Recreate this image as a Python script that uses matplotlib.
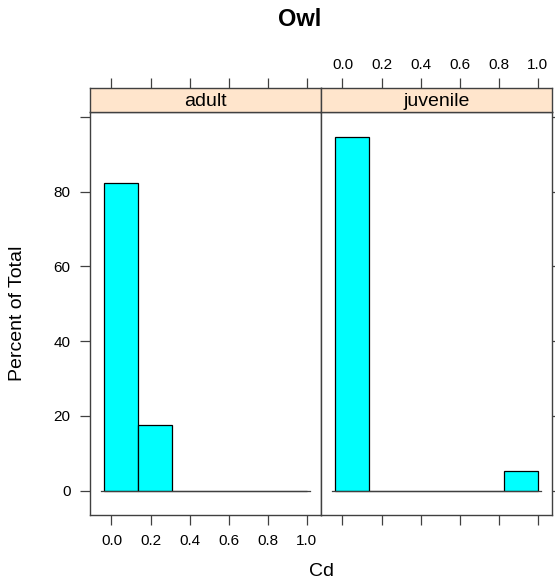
import numpy as np
import matplotlib.pyplot as plt

plt.rcParams['font.family'] = ['Liberation Sans', 'DejaVu Sans']

# histogram bins (Cd) and percent of total per group
edges = [-0.036, 0.137, 0.309, 0.482, 0.655, 0.827, 1.0]
groups = ['adult', 'juvenile']
pct = {
    'adult': [82.35, 17.65, 0, 0, 0, 0],
    'juvenile': [94.7, 0, 0, 0, 0, 5.3],
}
xticks = [0.0, 0.2, 0.4, 0.6, 0.8, 1.0]
yticks = [0, 20, 40, 60, 80, 100]
ylabels = ['0', '20', '40', '60', '80', '']

W, H = 555, 588
fig = plt.figure(figsize=(W / 100, H / 100), dpi=100)

axcol = '#404040'
xlim = (-0.11, 1.073)
ylim = (-6.5, 101.4)
panels_x = [(90, 321), (321, 552)]
ptop, pbot = 111.7, 515
stop = 88.3

for i, g in enumerate(groups):
    x0, x1 = panels_x[i]
    ax = fig.add_axes([x0 / W, 1 - pbot / H, (x1 - x0) / W, (pbot - ptop) / H])
    lefts = np.array(edges[:-1])
    widths = np.diff(edges)
    ax.bar(lefts, pct[g], width=widths, align='edge', color='#00FFFF',
           edgecolor='black', linewidth=0.9)
    ax.plot([-0.055, 1.015], [0, 0], color=axcol, lw=0.9)
    ax.set_xlim(xlim)
    ax.set_ylim(ylim)
    for s in ax.spines.values():
        s.set_color(axcol)
        s.set_linewidth(1.0)
    ax.set_xticks(xticks)
    ax.set_yticks(yticks)
    ax.tick_params(colors=axcol, labelcolor='black', length=7, width=0.9,
                   labelsize=11, pad=7)
    if i == 0:
        ax.set_yticklabels(ylabels)
        ax.set_xticklabels(['%.1f' % v for v in xticks])
        ax.tick_params(axis='y', left=True, right=False, labelleft=True)
    else:
        ax.set_xticklabels([])
        ax.tick_params(axis='y', left=False, right=True, labelleft=False)
        ax.set_yticklabels([])

    # strip with top ticks
    sx = fig.add_axes([x0 / W, 1 - ptop / H, (x1 - x0) / W, (ptop - stop) / H])
    sx.set_facecolor('#FFE5CC')
    sx.set_xlim(xlim)
    sx.set_ylim(0, 1)
    for s in sx.spines.values():
        s.set_color(axcol)
        s.set_linewidth(1.0)
    sx.set_yticks([])
    sx.xaxis.tick_top()
    sx.set_xticks(xticks)
    sx.tick_params(axis='x', colors=axcol, labelcolor='black', length=7,
                   width=0.9, labelsize=11, pad=5)
    if i == 1:
        sx.set_xticklabels(['%.1f' % v for v in xticks])
    else:
        sx.set_xticklabels([])
    sx.text(0.5, 0.45, g, transform=sx.transAxes, ha='center', va='center',
            fontsize=14)

fig.text(18 / W, 1 - 313 / H, 'Percent of Total', rotation=90,
         ha='center', va='center', fontsize=14)
fig.text(321 / W, 1 - 572 / H, 'Cd', ha='center', va='center', fontsize=14)
fig.text(300 / W, 1 - 19 / H, 'Owl', ha='center', va='center', fontsize=17,
         fontweight='bold')

plt.savefig('out.png', dpi=100)
